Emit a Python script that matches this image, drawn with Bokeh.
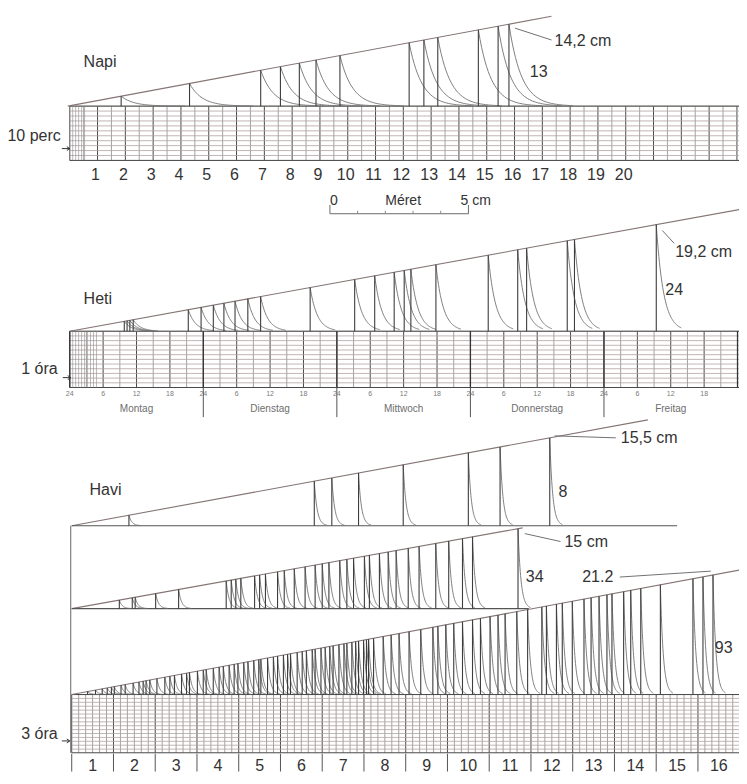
import numpy as np
from bokeh.plotting import figure
from bokeh.models import Range1d
from bokeh.core.properties import value
from bokeh.embed import file_html
from bokeh.resources import INLINE

# ---------------- data ----------------
# Napi (daily record): axis units 1..20, event positions on that axis
napi_ticks = list(range(1, 21))
napi_events = [1.92, 4.38, 6.94, 7.65, 8.33, 8.93, 9.79, 12.28, 12.81, 13.31, 14.77, 15.48, 15.87]
napi_total_cm = 14.2
napi_count = "13"

# Heti (weekly record): hours from Monday 0h
heti_days = ["Montag", "Dienstag", "Mittwoch", "Donnerstag", "Freitag"]
heti_hour_ticks = [0, 6, 12, 18]
heti_hour_labels = ["24", "6", "12", "18"]
heti_events_h = [9.8, 10.3, 10.8, 11.4, 21.3, 23.6, 25.8, 27.7, 29.7, 32.0, 34.3, 43.2,
                 51.2, 54.8, 58.3, 60.1, 61.3, 65.8, 75.2, 80.5, 82.1, 89.4, 90.7, 105.4]
heti_total_cm = 19.2
heti_count = "24"

# Havi (monthly records): days from start of day 1
havi_days = list(range(1, 17))
havi1_events = [1.37, 5.81, 6.23, 6.87, 7.94, 9.50, 10.26, 11.45]
havi1_total_cm = 15.5
havi2_events = [1.14, 1.45, 1.52, 2.01, 2.56, 3.70, 3.82, 3.93, 4.05, 4.38, 4.50, 4.64,
                4.93, 5.09, 5.33, 5.59, 5.83, 6.00, 6.16, 6.42, 6.59, 6.75, 7.01, 7.13,
                7.37, 7.58, 7.77, 8.06, 8.32, 8.72, 9.03, 9.36, 9.60, 10.69]
havi2_total_cm = 15.0
havi3_events = [0.38, 0.57, 0.73, 0.85, 0.95, 1.02, 1.18, 1.28, 1.47, 1.61,
                1.71, 1.78, 1.87, 2.04, 2.23, 2.35, 2.46, 2.63, 2.75, 2.82,
                3.01, 3.15, 3.22, 3.39, 3.53, 3.63, 3.77, 3.89, 3.98, 4.12,
                4.22, 4.36, 4.48, 4.53, 4.69, 4.83, 4.93, 5.07, 5.17, 5.24,
                5.40, 5.52, 5.62, 5.76, 5.83, 5.97, 6.07, 6.18, 6.26, 6.40,
                6.52, 6.59, 6.71, 6.80, 6.87, 6.99, 7.06, 7.11,
                7.23, 7.46, 7.65, 7.84, 8.08, 8.36, 8.65, 8.77, 8.96, 9.15,
                9.36, 9.60, 9.79, 10.02, 10.21, 10.38, 10.66, 10.92, 11.26, 11.37,
                11.61, 11.75, 11.99, 12.27, 12.44, 12.63, 12.82, 12.94, 13.22, 13.39,
                13.63, 14.10, 14.88, 15.12, 15.36]
havi3_total_cm = 21.2

# ---------------- layout ----------------
W, H = 739, 774
PX0, PY0 = 0, 0
PX1, PY1 = 747, 784
FONT = value("Liberation Sans")
TXT = "#333333"
VCOL = "#3d3d3d"
TCOL = "#727272"
SCOL = "#857575"
GRID_H = "#b3a2a2"
GRID_V = "#8c8c8c"
GRID_VD = "#4a4a4a"
FS = 16

p = figure(width=W, height=H, x_range=Range1d(PX0, PX1), y_range=Range1d(PY1, PY0),
           output_backend="svg", toolbar_location=None, min_border=0,
           x_axis_location=None, y_axis_location=None, outline_line_color=None)
p.xgrid.visible = False
p.ygrid.visible = False


def add_x(name, px_at_zero, px_per_unit):
    p.extra_x_ranges[name] = Range1d((PX0 - px_at_zero) / px_per_unit, (PX1 - px_at_zero) / px_per_unit)


def add_y(name, base_px, px_per_cm):
    p.extra_y_ranges[name] = Range1d((base_px - PY1) / px_per_cm, (base_px - PY0) / px_per_cm)


add_x("napi", 68, 28.1)
add_y("napi", 107, 83 / 14.2)
add_x("heti", 70, 135 / 24.0)
add_y("heti", 335, 5.625)
add_x("havi", 72, 42.2)
add_y("havi1", 532, 5.74)
add_y("havi2", 616, 5.4)
add_y("havi3", 703, 5.71)


def txt(x, y, s, size=FS, align="left", color=TXT, xr="default", yr="default"):
    p.text(x=[x] if not isinstance(x, list) else x, y=[y] if not isinstance(y, list) else y,
           text=[s] if not isinstance(s, list) else s, text_font=FONT, text_font_size=f"{size}px",
           text_align=align, text_baseline="middle", text_color=color,
           x_range_name=xr, y_range_name=yr)


def grid(x0, x1, y0, y1, vstep, dark_every, hstep, dense_to=None):
    xs = np.arange(x0, x1 + 0.1, vstep)
    light = [x for i, x in enumerate(xs) if i % dark_every]
    dark = [x for i, x in enumerate(xs) if i % dark_every == 0]
    p.segment(x0=light, y0=y0, x1=light, y1=y1, line_color=GRID_V, line_width=0.8)
    p.segment(x0=dark, y0=y0, x1=dark, y1=y1, line_color=GRID_VD, line_width=1)
    ys = np.arange(y0, y1 + 0.1, hstep)
    p.segment(x0=x0, y0=ys, x1=x1, y1=ys, line_color=GRID_H, line_width=0.8)
    p.segment(x0=x0, y0=[y0, y1], x1=x1, y1=[y0, y1], line_color=GRID_VD, line_width=1)
    if dense_to:
        dx = np.arange(x0, dense_to, 3.0)
        p.segment(x0=dx, y0=y0, x1=dx, y1=y1, line_color=GRID_V, line_width=0.6)


def events(xr, yr, times, total, line_end, tau, tail_len, base_end=None):
    rate = total / max(times)
    t = np.array(times)
    h = rate * t
    p.line([0, line_end], [0, rate * line_end], x_range_name=xr, y_range_name=yr,
           line_color=SCOL, line_width=1.1)
    if base_end is not None:
        p.line([0, base_end], [0, 0], x_range_name=xr, y_range_name=yr,
               line_color="#555555", line_width=1.1)
    xs, ys = [], []
    for ti, hi in zip(t, h):
        d = np.linspace(0, tail_len, 40)
        xs.append(list(ti + d))
        ys.append(list(hi * np.exp(-d / tau)))
    p.multi_line(xs=xs, ys=ys, x_range_name=xr, y_range_name=yr, line_color=TCOL, line_width=0.9)
    p.segment(x0=t, y0=0, x1=t, y1=h, x_range_name=xr, y_range_name=yr,
              line_color=VCOL, line_width=1.1)


def arrow(x0, x1, y):
    p.segment(x0=[x0], y0=[y], x1=[x1], y1=[y], line_color=TXT, line_width=1)
    p.segment(x0=[x1 - 3, x1 - 3], y0=[y - 2, y + 2], x1=[x1, x1], y1=[y, y], line_color=TXT, line_width=1)


# ---------------- Napi ----------------
grid(70, 747, 107, 162, 14.05, 2, 5, dense_to=86)
events("napi", "napi", napi_events, napi_total_cm, 17.4, 0.45, 2.3)
txt(napi_ticks, [176] * len(napi_ticks), [str(v) for v in napi_ticks], align="center", xr="napi")
txt(84, 62, "Napi")
txt(7, 137, "10 perc")
arrow(62, 70, 150)
txt(560, 41, "14,2 cm")
p.line([520, 557], [28, 40], line_color=TCOL, line_width=1)
txt(535, 71, napi_count)
# scale bar
txt(337, 202, "0", size=14, align="center")
txt(407, 202, "Méret", size=14, align="center")
txt(465, 202, "5 cm", size=14)
p.line([333, 473], [216, 216], line_color="#6a6a6a", line_width=1)
p.segment(x0=[333, 473], y0=[207, 207], x1=[333, 473], y1=[216, 216], line_color="#6a6a6a", line_width=1)
p.segment(x0=[361, 389, 417, 445], y0=[213] * 4, x1=[361, 389, 417, 445], y1=[216] * 4,
          line_color="#8a8a8a", line_width=1)

# ---------------- Heti ----------------
grid(70, 747, 335, 392, 16.875, 2, 4.75, dense_to=100)
p.segment(x0=[70 + 135 * i for i in range(6)], y0=335, x1=[70 + 135 * i for i in range(6)], y1=392,
          line_color="#333333", line_width=1.3)
events("heti", "heti", heti_events_h, heti_total_cm, 120.4, 1.3, 4.5)
hx = [24 * d + h for d in range(5) for h in heti_hour_ticks]
hl = [heti_hour_labels[i] for d in range(5) for i in range(len(heti_hour_ticks))]
txt(hx, [398] * len(hx), hl, size=7, align="center", color="#7a7a7a", xr="heti")
txt([24 * i + 12 for i in range(5)], [413] * 5, heti_days, size=10, align="center", color="#6e6e6e", xr="heti")
p.segment(x0=[24 * i for i in range(1, 5)], y0=392, x1=[24 * i for i in range(1, 5)], y1=422,
          x_range_name="heti", line_color="#555555", line_width=1)
txt(84, 302, "Heti")
txt(21, 373, "1 óra")
arrow(63, 71, 382)
txt(682, 254, "19,2 cm")
p.line([669, 681], [233, 246], line_color=TCOL, line_width=1)
txt(672, 292, heti_count)

# ---------------- Havi ----------------
grid(72, 747, 703, 762, 42.2 / 6, 6, 3.95)
p.line([71, 71], [532, 762], line_color="#666666", line_width=1)
events("havi", "havi1", havi1_events, havi1_total_cm, 13.8, 0.07, 0.3, base_end=14.5)
events("havi", "havi2", havi2_events, havi2_total_cm, 10.8, 0.07, 0.3, base_end=10.95)
events("havi", "havi3", havi3_events, havi3_total_cm, 16.0, 0.07, 0.3)
txt([d - 0.5 for d in havi_days], [774] * len(havi_days), [str(d) for d in havi_days],
    align="center", xr="havi")
sep = list(range(0, 17))
p.segment(x0=sep, y0=763, x1=sep, y1=781, x_range_name="havi", line_color="#555555", line_width=1)
txt(90, 495, "Havi")
txt(627, 443, "15,5 cm")
p.line([560, 622], [441, 443], line_color=TCOL, line_width=1)
txt(564, 497, str(len(havi1_events)))
txt(570, 548, "15 cm")
p.line([530, 566], [540, 548], line_color=TCOL, line_width=1)
txt(531, 583, str(len(havi2_events)))
txt(588, 583, "21.2")
p.line([626, 718], [584, 578], line_color=TCOL, line_width=1)
txt(722, 655, str(len(havi3_events)))
txt(21, 742, "3 óra")
arrow(62, 70, 750)

open("out.html", "w").write(file_html(p, INLINE))
